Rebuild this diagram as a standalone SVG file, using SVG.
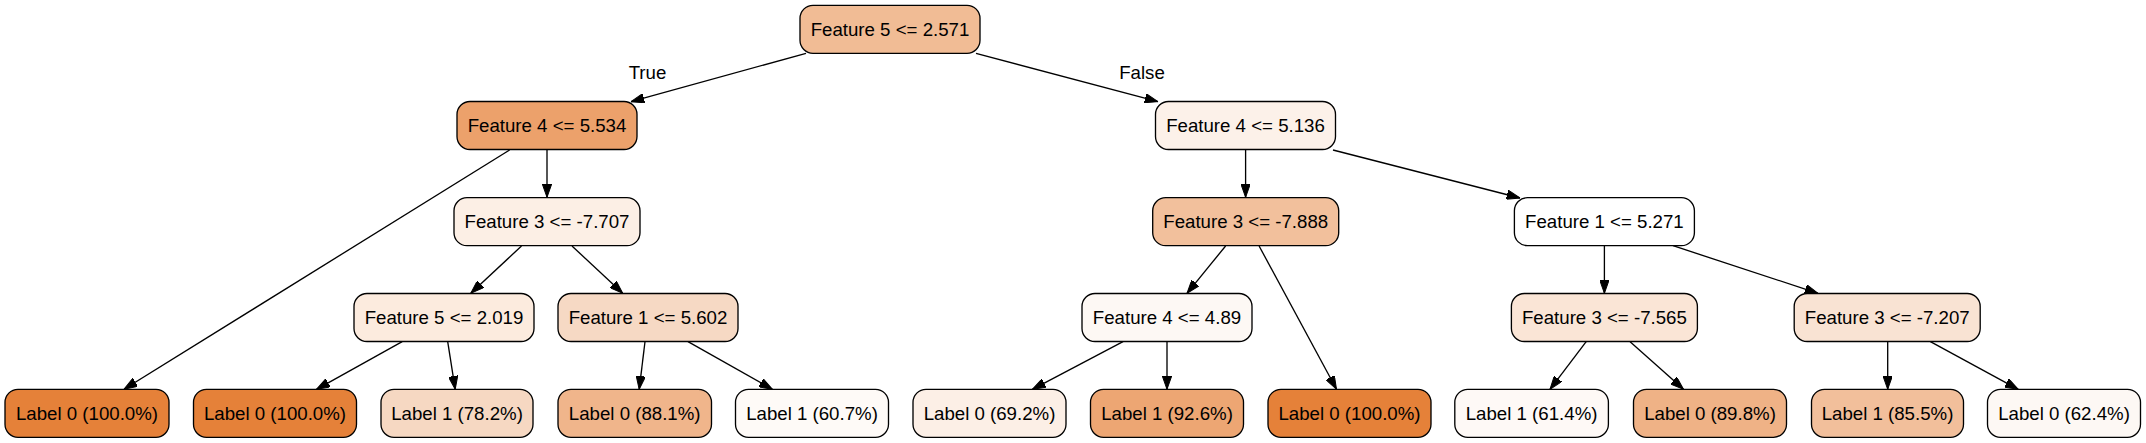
<svg xmlns="http://www.w3.org/2000/svg" width="2146" height="443" viewBox="0 0 2146 443">
<style>
.n rect{stroke:#000;stroke-width:1.33}
.n text,.el{font-family:"Liberation Sans",Arial,Helvetica,sans-serif;font-size:18.67px;fill:#000;text-anchor:middle}
.e line{stroke:#000;stroke-width:1.33;marker-end:url(#arr)}
</style>
<defs>
<marker id="arr" viewBox="0 0 13.3 9.4" refX="13.3" refY="4.7" markerWidth="13.3" markerHeight="9.4" markerUnits="userSpaceOnUse" orient="auto">
<path d="M0,0 L13.3,4.7 L0,9.4 z" fill="#000" stroke="#000" stroke-width="1"/>
</marker>
</defs>
<rect width="2146" height="443" fill="#fff"/>
<g id="edges" class="e">
<line x1="806" y1="53.3" x2="631" y2="101.7"/>
<line x1="976" y1="53.3" x2="1158" y2="101.7"/>
<line x1="509.6" y1="150" x2="124" y2="389.3"/>
<line x1="547" y1="150" x2="547" y2="197.3"/>
<line x1="521.5" y1="246" x2="470.8" y2="293.3"/>
<line x1="572" y1="246" x2="622.7" y2="293.3"/>
<line x1="402.2" y1="341.7" x2="316.5" y2="389.3"/>
<line x1="447.7" y1="341.7" x2="455.2" y2="389.3"/>
<line x1="645" y1="341.7" x2="639.2" y2="389.3"/>
<line x1="688" y1="341.7" x2="772.4" y2="389.3"/>
<line x1="1245.6" y1="150" x2="1245.6" y2="197.3"/>
<line x1="1333" y1="150" x2="1520" y2="198"/>
<line x1="1225.6" y1="246" x2="1187" y2="293.3"/>
<line x1="1259.1" y1="246" x2="1336.5" y2="389.3"/>
<line x1="1123" y1="341.7" x2="1032.4" y2="389.3"/>
<line x1="1167" y1="341.7" x2="1167" y2="389.3"/>
<line x1="1604.4" y1="245.7" x2="1604.4" y2="293.3"/>
<line x1="1673" y1="245.7" x2="1818" y2="293.3"/>
<line x1="1586.2" y1="341.7" x2="1550" y2="389.3"/>
<line x1="1630.1" y1="341.7" x2="1683.5" y2="389.3"/>
<line x1="1887.7" y1="341.7" x2="1887.7" y2="389.3"/>
<line x1="1930.4" y1="341.7" x2="2018.2" y2="389.3"/>
<text class="el" x="647.5" y="79">True</text>
<text class="el" x="1142" y="79">False</text>
</g>
<g id="n0" class="n"><rect x="800" y="5.3" width="180" height="48" rx="13" fill="#f1bc95"/><text x="890" y="35.6">Feature 5 &lt;= 2.571</text></g>
<g id="n1" class="n"><rect x="457" y="101.5" width="180" height="48" rx="13" fill="#eca16b"/><text x="547" y="131.8">Feature 4 &lt;= 5.534</text></g>
<g id="n8" class="n"><rect x="1155.5" y="101.5" width="180" height="48" rx="13" fill="#fcf1e9"/><text x="1245.5" y="131.8">Feature 4 &lt;= 5.136</text></g>
<g id="n2" class="n"><rect x="454" y="197.7" width="186" height="48" rx="13" fill="#fcefe5"/><text x="547" y="228">Feature 3 &lt;= -7.707</text></g>
<g id="n9" class="n"><rect x="1152.7" y="197.7" width="186" height="48" rx="13" fill="#f2c09c"/><text x="1245.7" y="228">Feature 3 &lt;= -7.888</text></g>
<g id="n14" class="n"><rect x="1514.4" y="197.7" width="180" height="48" rx="13" fill="#ffffff"/><text x="1604.4" y="228">Feature 1 &lt;= 5.271</text></g>
<g id="n3" class="n"><rect x="354" y="293.5" width="180" height="48" rx="13" fill="#fcebde"/><text x="444" y="323.8">Feature 5 &lt;= 2.019</text></g>
<g id="n6" class="n"><rect x="558" y="293.5" width="180" height="48" rx="13" fill="#f6d9c4"/><text x="648" y="323.8">Feature 1 &lt;= 5.602</text></g>
<g id="n10" class="n"><rect x="1082" y="293.5" width="170" height="48" rx="13" fill="#fdf8f4"/><text x="1167" y="323.8">Feature 4 &lt;= 4.89</text></g>
<g id="n15" class="n"><rect x="1511.4" y="293.5" width="186" height="48" rx="13" fill="#fae5d6"/><text x="1604.4" y="323.8">Feature 3 &lt;= -7.565</text></g>
<g id="n18" class="n"><rect x="1794.2" y="293.5" width="186" height="48" rx="13" fill="#f9e3d3"/><text x="1887.2" y="323.8">Feature 3 &lt;= -7.207</text></g>
<g id="L1" class="n"><rect x="5" y="389.3" width="164" height="48" rx="13" fill="#e58139"/><text x="87" y="419.6">Label 0 (100.0%)</text></g>
<g id="L2" class="n"><rect x="193.5" y="389.3" width="163" height="48" rx="13" fill="#e58139"/><text x="275" y="419.6">Label 0 (100.0%)</text></g>
<g id="L3" class="n"><rect x="381" y="389.3" width="152" height="48" rx="13" fill="#f6d8c2"/><text x="457" y="419.6">Label 1 (78.2%)</text></g>
<g id="L4" class="n"><rect x="558" y="389.3" width="153.5" height="48" rx="13" fill="#f0b58b"/><text x="634.7" y="419.6">Label 0 (88.1%)</text></g>
<g id="L5" class="n"><rect x="735.5" y="389.3" width="153" height="48" rx="13" fill="#fefaf7"/><text x="812" y="419.6">Label 1 (60.7%)</text></g>
<g id="L6" class="n"><rect x="913" y="389.3" width="153" height="48" rx="13" fill="#fcefe6"/><text x="989.5" y="419.6">Label 0 (69.2%)</text></g>
<g id="L7" class="n"><rect x="1090.5" y="389.3" width="153" height="48" rx="13" fill="#eda673"/><text x="1167" y="419.6">Label 1 (92.6%)</text></g>
<g id="L8" class="n"><rect x="1268" y="389.3" width="163" height="48" rx="13" fill="#e58139"/><text x="1349.5" y="419.6">Label 0 (100.0%)</text></g>
<g id="L9" class="n"><rect x="1454.8" y="389.3" width="153.6" height="48" rx="13" fill="#fef9f6"/><text x="1531.6" y="419.6">Label 1 (61.4%)</text></g>
<g id="L10" class="n"><rect x="1633.5" y="389.3" width="153" height="48" rx="13" fill="#efb286"/><text x="1710" y="419.6">Label 0 (89.8%)</text></g>
<g id="L11" class="n"><rect x="1811.5" y="389.3" width="152" height="48" rx="13" fill="#f2bf9b"/><text x="1887.5" y="419.6">Label 1 (85.5%)</text></g>
<g id="L12" class="n"><rect x="1987.5" y="389.3" width="153" height="48" rx="13" fill="#fdf8f4"/><text x="2064" y="419.6">Label 0 (62.4%)</text></g>
</svg>
